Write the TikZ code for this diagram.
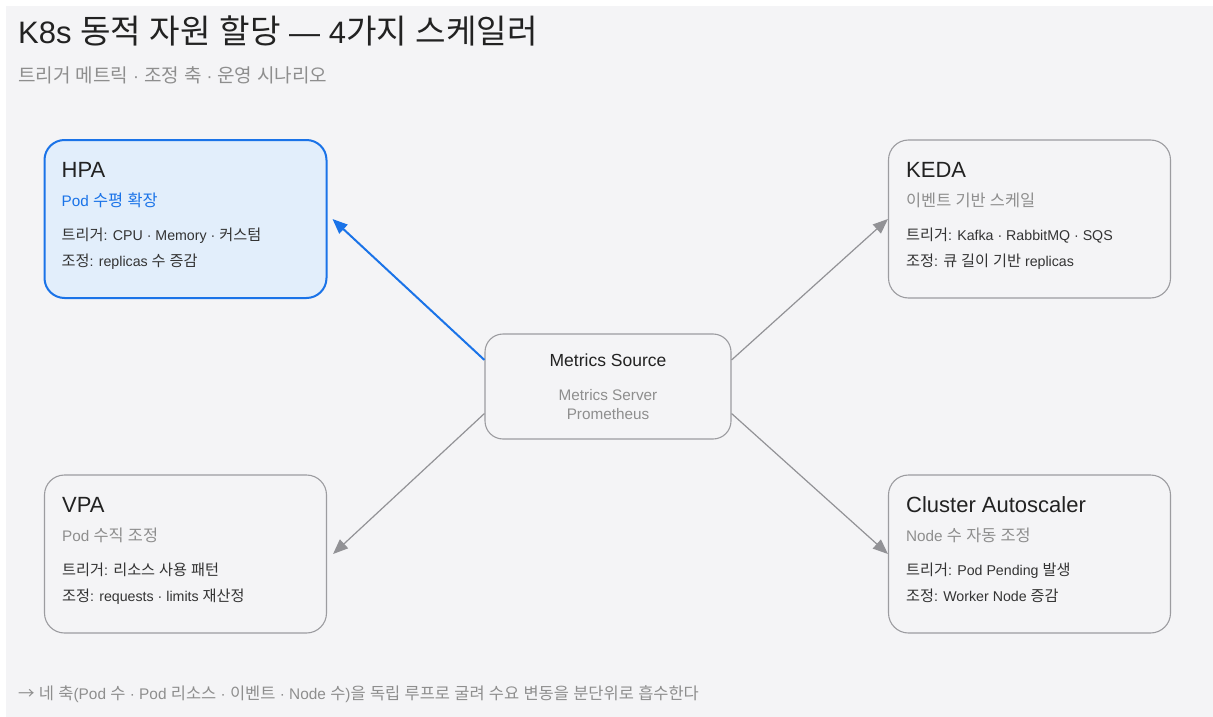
\documentclass[tikz,border=0pt]{standalone}
\usepackage{fontspec}
\setmainfont{Liberation Sans}
\newfontfamily\latinfont{Liberation Sans}
\newfontfamily\krfont[Scale=1.07]{Noto Sans CJK KR}
\usepackage{xcolor}
\usepackage{tikz}
\usetikzlibrary{arrows.meta, positioning}

% Hangul syllables switch to the Korean font on their own
\XeTeXinterchartokenstate=1
\newXeTeXintercharclass\hangulcls
\count255="AC00
\loop
  \XeTeXcharclass\count255=\hangulcls
  \advance\count255 by 1
\ifnum\count255<"D7A4 \repeat
\XeTeXinterchartoks 0 \hangulcls = {\krfont}
\XeTeXinterchartoks 4095 \hangulcls = {\krfont}
\XeTeXinterchartoks \hangulcls 0 = {\latinfont}
\XeTeXinterchartoks \hangulcls 4095 = {\latinfont}

\definecolor{bgc}{HTML}{F4F4F6}
\definecolor{edgec}{HTML}{9C9CA0}
\definecolor{bluec}{HTML}{1A73E8}
\definecolor{bluefill}{HTML}{E2EEFB}
\definecolor{greyc}{HTML}{8E8E8E}
\definecolor{inkc}{HTML}{222222}
\definecolor{bodyc}{HTML}{333333}
\definecolor{arrc}{HTML}{929296}

\begin{document}
\begin{tikzpicture}[
    x=1pt, y=-1pt,
    >={Triangle[length=15pt, width=12pt]},
    card/.style={draw=edgec, line width=1.1pt, fill=bgc, rounded corners=20pt, minimum width=282pt, minimum height=158pt},
    hot/.style={draw=bluec, line width=2pt, fill=bluefill},
    srcbox/.style={draw=edgec, line width=1.1pt, fill=bgc, rounded corners=18pt, minimum width=246pt, minimum height=105pt},
    ttl/.style={anchor=base west, inner sep=0pt, text=inkc, font=\fontsize{22}{26}\selectfont},
    sub/.style={anchor=base west, inner sep=0pt, text=greyc, font=\fontsize{15.3}{18}\selectfont},
    txt/.style={anchor=base west, inner sep=0pt, text=bodyc, font=\fontsize{14.2}{17}\selectfont},
    arrow/.style={->, line width=1.2pt, arrc},
    hotarrow/.style={->, line width=2pt, bluec}
]

% Background and page
\useasboundingbox (0,0) rectangle (1213,717);
\fill[white] (0,0) rectangle (1213,717);
\fill[bgc] (6,6) rectangle (1213,717);

% Heading
\node[ttl, font=\fontsize{31}{36}\selectfont] (head) at (18,44) {K8s 동적 자원 할당 — 4가지 스케일러};
\node[sub, font=\fontsize{17.8}{21}\selectfont] (headsub) at (18,83) {트리거 메트릭 · 조정 축 · 운영 시나리오};

% Nodes
\node[card, hot] (hpa) at (185.5,219) {};
\node[card] (keda) at (1029.5,219) {};
\node[card] (vpa) at (185.5,554) {};
\node[card] (ca) at (1029.5,554) {};
\node[srcbox] (src) at (608,386.5) {};

% HPA
\node[ttl] (hpat) at ([xshift=18pt, yshift=-38pt]hpa.north west) {HPA};
\node[sub, text=bluec] (hpas) at ([xshift=18pt, yshift=-67pt]hpa.north west) {Pod 수평 확장};
\node[txt] (hpaa) at ([xshift=18pt, yshift=-101pt]hpa.north west) {트리거: CPU · Memory · 커스텀};
\node[txt] (hpab) at ([xshift=18pt, yshift=-127pt]hpa.north west) {조정: replicas 수 증감};

% KEDA
\node[ttl] (kedat) at ([xshift=18pt, yshift=-38pt]keda.north west) {KEDA};
\node[sub] (kedas) at ([xshift=18pt, yshift=-67pt]keda.north west) {이벤트 기반 스케일};
\node[txt] (kedaa) at ([xshift=18pt, yshift=-101pt]keda.north west) {트리거: Kafka · RabbitMQ · SQS};
\node[txt] (kedab) at ([xshift=18pt, yshift=-127pt]keda.north west) {조정: 큐 길이 기반 replicas};

% VPA
\node[ttl] (vpat) at ([xshift=18pt, yshift=-38pt]vpa.north west) {VPA};
\node[sub] (vpas) at ([xshift=18pt, yshift=-67pt]vpa.north west) {Pod 수직 조정};
\node[txt] (vpaa) at ([xshift=18pt, yshift=-101pt]vpa.north west) {트리거: 리소스 사용 패턴};
\node[txt] (vpab) at ([xshift=18pt, yshift=-127pt]vpa.north west) {조정: requests · limits 재산정};

% Cluster Autoscaler
\node[ttl] (cat) at ([xshift=18pt, yshift=-38pt]ca.north west) {Cluster Autoscaler};
\node[sub] (cas) at ([xshift=18pt, yshift=-67pt]ca.north west) {Node 수 자동 조정};
\node[txt] (caa) at ([xshift=18pt, yshift=-101pt]ca.north west) {트리거: Pod Pending 발생};
\node[txt] (cab) at ([xshift=18pt, yshift=-127pt]ca.north west) {조정: Worker Node 증감};

% Metrics Source
\node[ttl, anchor=base, font=\fontsize{17.5}{21}\selectfont] (srct) at ([yshift=-33pt]src.north) {Metrics Source};
\node[sub, anchor=base] (srca) at ([yshift=-67pt]src.north) {Metrics Server};
\node[sub, anchor=base] (srcb) at ([yshift=-86pt]src.north) {Prometheus};

% Source -> scalers
\draw[hotarrow] ([yshift=26.5pt]src.west) -- ([xshift=5pt]hpa.east);
\draw[arrow] ([yshift=26.5pt]src.east) -- (keda.west);
\draw[arrow] ([yshift=-27pt]src.west) -- ([xshift=6pt]vpa.east);
\draw[arrow] ([yshift=-27pt]src.east) -- (ca.west);

% Footer
\node[sub, font=\fontsize{15.4}{19}\selectfont] (foot) at (18,699) {{\krfont →} 네 축(Pod 수 · Pod 리소스 · 이벤트 · Node 수)을 독립 루프로 굴려 수요 변동을 분단위로 흡수한다};

\end{tikzpicture}
\end{document}
